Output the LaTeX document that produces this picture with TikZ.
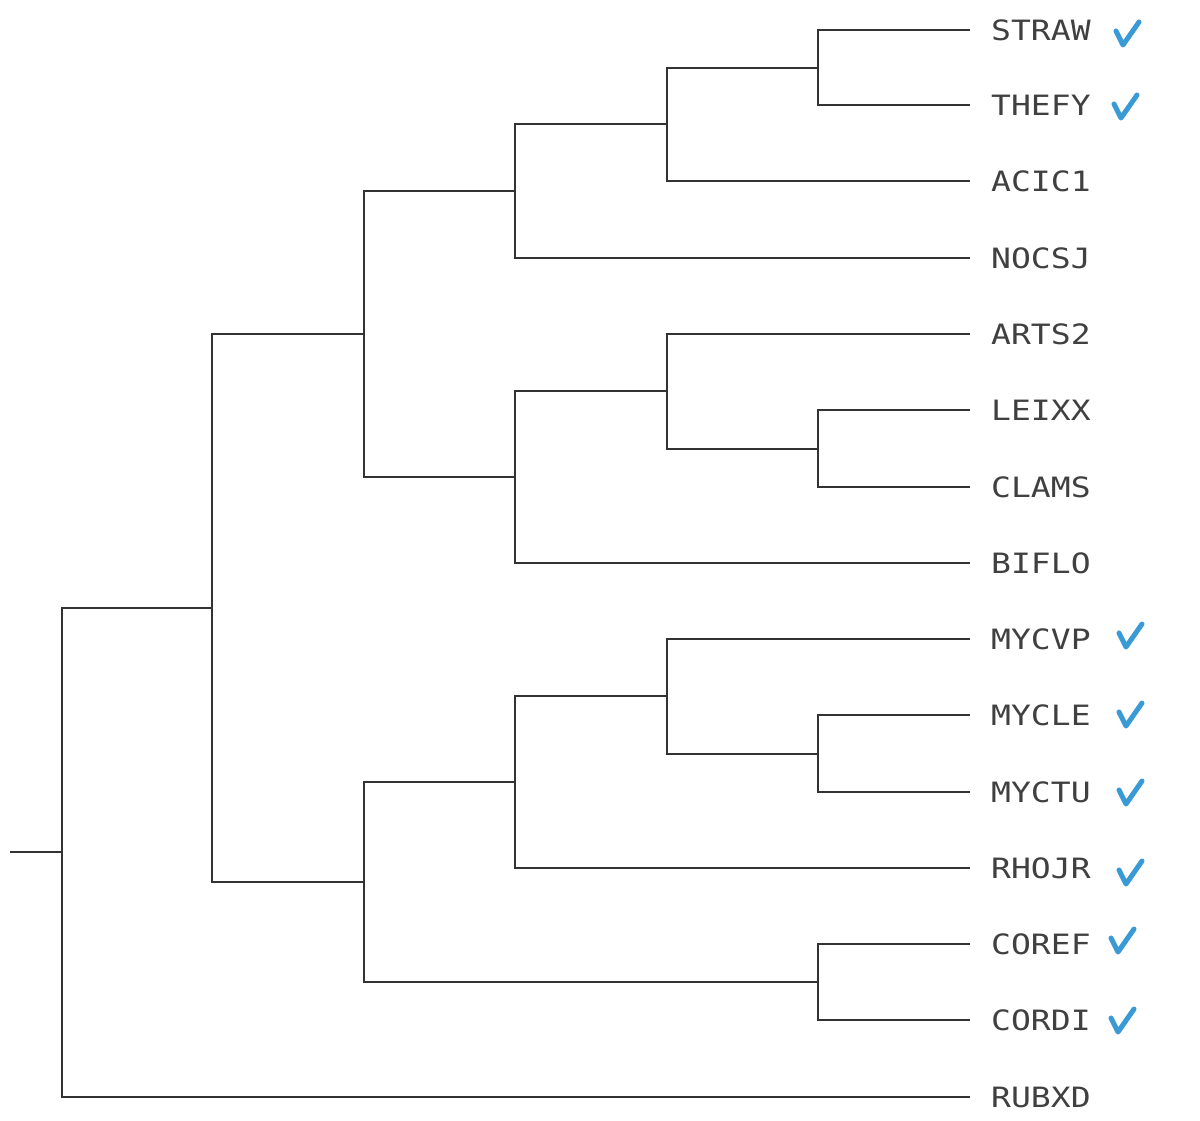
\documentclass[tikz,border=0pt]{standalone}
\usepackage{fontspec}
\setmonofont[FakeStretch=1.18]{DejaVu Sans Mono}
\definecolor{tickblue}{RGB}{58,154,214}

\begin{document}
\begin{tikzpicture}[x=1pt,y=-1pt]
	\tikzstyle{leaf} = [anchor=west,inner xsep=21pt,inner ysep=0pt,text height=21pt,text depth=0pt,font=\ttfamily\fontsize{28}{34}\selectfont,text=black!75]
	\tikzstyle{edge} = [line width=2pt,draw=black!80]
	\tikzstyle{tick} = [line width=5pt,line cap=round,line join=round,draw=tickblue]
	\useasboundingbox (0,0) rectangle (1200,1120);
	% leaves
	\node[leaf] (straw) at (970,30) {STRAW};
	\node[leaf] (thefy) at (970,105) {THEFY};
	\node[leaf] (acic) at (970,181) {ACIC1};
	\node[leaf] (nocsj) at (970,258) {NOCSJ};
	\node[leaf] (arts) at (970,334) {ARTS2};
	\node[leaf] (leixx) at (970,410) {LEIXX};
	\node[leaf] (clams) at (970,487) {CLAMS};
	\node[leaf] (biflo) at (970,563) {BIFLO};
	\node[leaf] (mycvp) at (970,639) {MYCVP};
	\node[leaf] (mycle) at (970,715) {MYCLE};
	\node[leaf] (myctu) at (970,792) {MYCTU};
	\node[leaf] (rhojr) at (970,868) {RHOJR};
	\node[leaf] (coref) at (970,944) {COREF};
	\node[leaf] (cordi) at (970,1020) {CORDI};
	\node[leaf] (rubxd) at (970,1097) {RUBXD};
	% inner nodes
	\coordinate (n0) at (10,852);
	\coordinate (n1) at (62,852);
	\coordinate (n2) at (212,608);
	\coordinate (n3) at (364,334);
	\coordinate (n4) at (364,882);
	\coordinate (n5) at (515,191);
	\coordinate (n6) at (667,124);
	\coordinate (n7) at (818,67.5);
	\coordinate (n8) at (515,477);
	\coordinate (n9) at (667,391);
	\coordinate (n10) at (818,448.5);
	\coordinate (n11) at (515,782);
	\coordinate (n12) at (667,696);
	\coordinate (n13) at (818,753.5);
	\coordinate (n14) at (818,982);
	% branches
	\draw[edge] (n0)--(n1);
	\draw[edge] (n1) |- (n2);
	\draw[edge] (n1) |- (rubxd.west);
	\draw[edge] (n2) |- (n3);
	\draw[edge] (n2) |- (n4);
	\draw[edge] (n3) |- (n5);
	\draw[edge] (n3) |- (n8);
	\draw[edge] (n5) |- (n6);
	\draw[edge] (n5) |- (nocsj.west);
	\draw[edge] (n6) |- (n7);
	\draw[edge] (n6) |- (acic.west);
	\draw[edge] (n7) |- (straw.west);
	\draw[edge] (n7) |- (thefy.west);
	\draw[edge] (n8) |- (n9);
	\draw[edge] (n8) |- (biflo.west);
	\draw[edge] (n9) |- (arts.west);
	\draw[edge] (n9) |- (n10);
	\draw[edge] (n10) |- (leixx.west);
	\draw[edge] (n10) |- (clams.west);
	\draw[edge] (n4) |- (n11);
	\draw[edge] (n4) |- (n14);
	\draw[edge] (n11) |- (n12);
	\draw[edge] (n11) |- (rhojr.west);
	\draw[edge] (n12) |- (mycvp.west);
	\draw[edge] (n12) |- (n13);
	\draw[edge] (n13) |- (mycle.west);
	\draw[edge] (n13) |- (myctu.west);
	\draw[edge] (n14) |- (coref.west);
	\draw[edge] (n14) |- (cordi.west);
	% ticks
	\draw[tick] (1116,31) -- ++(7,14) -- ++(16,-23);
	\draw[tick] (1114,104) -- ++(7,14) -- ++(16,-23);
	\draw[tick] (1119,633) -- ++(7,14) -- ++(16,-23);
	\draw[tick] (1119,712) -- ++(7,14) -- ++(16,-23);
	\draw[tick] (1119,790) -- ++(7,14) -- ++(16,-23);
	\draw[tick] (1119,870) -- ++(7,14) -- ++(16,-23);
	\draw[tick] (1111,938) -- ++(7,14) -- ++(16,-23);
	\draw[tick] (1111,1018) -- ++(7,14) -- ++(16,-23);
\end{tikzpicture}
\end{document}
